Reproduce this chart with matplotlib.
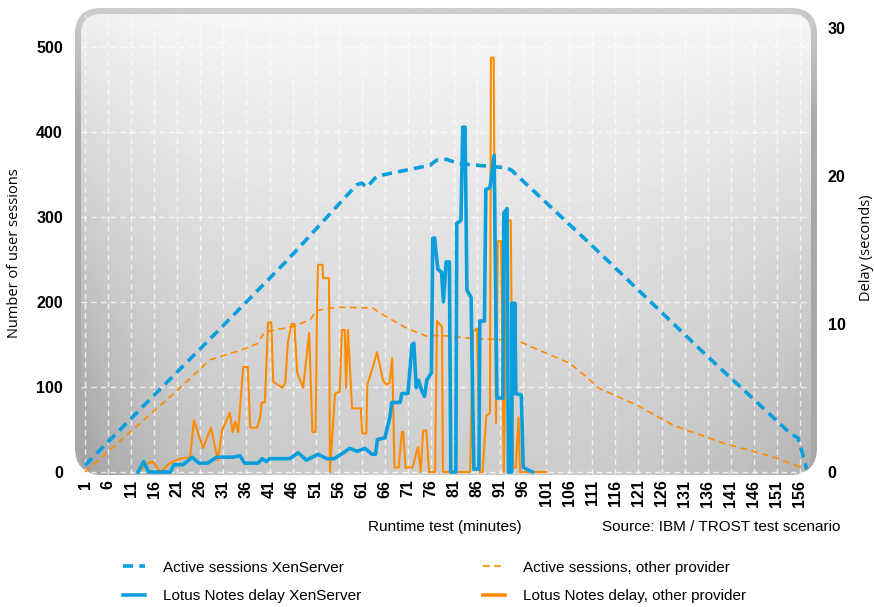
import numpy as np
import matplotlib.pyplot as plt
from matplotlib.patches import FancyBboxPatch
from matplotlib.lines import Line2D

# ---- data ----
x_ticks = list(range(1, 157, 5))
y_ticks_left = [0, 100, 200, 300, 400, 500]
y_ticks_right = [0, 10, 20, 30]

# active sessions XenServer (left axis)
sess_xen_m = [1, 15, 30, 45, 59.9, 61, 62.1, 63.9, 65, 75.8, 77.2, 79.4, 81.9, 92.4, 93.5,
              111.2, 135, 153.8, 155.6, 157.5]
sess_xen_v = [8, 85, 167, 250, 338, 340, 335, 346, 349, 361, 367, 368, 363, 358, 355,
              265, 141, 46, 40, 3]

# active sessions other provider (left axis)
sess_oth_m = [1, 21, 28.1, 34.6, 38.3, 40, 46, 49.8, 51.2, 55.6, 63.4, 65, 70.8, 75, 78, 85,
              94.6, 99.6, 106.1, 109.7, 112.3, 121.3, 128.5, 139.4, 150, 157.5]
sess_oth_v = [0, 96, 132, 143, 151, 165, 171, 179, 190, 194, 193, 187, 169, 160, 161, 157,
              155, 143, 128, 112, 99, 77, 55, 34, 18, 3]

# Lotus Notes delay XenServer (right axis, seconds)
delay_xen_m = [12.5, 13.7, 14.8, 19.5, 20.3, 22.3, 24.2, 25.7, 27.6, 29.5, 33.0, 34.6, 35.6,
               38.5, 39.4, 40.3, 41.0, 45.4, 47.2, 49.0, 51.5, 53.4, 55.0, 57.0, 58.4, 60.0,
               61.7, 63.2, 64.0, 64.4, 66.0, 67.1, 67.5, 69.3, 69.7, 71.0, 71.9, 72.3, 72.8,
               73.3, 74.0, 74.6, 75.1, 76.1, 76.4, 76.8, 77.5, 78.3, 78.7, 79.3, 80.0, 80.3,
               81.4, 81.6, 82.5, 82.9, 83.4, 83.8, 84.7, 85.3, 86.4, 86.6, 87.6, 87.9, 88.8,
               89.7, 90.3, 91.6, 91.8, 92.5, 92.8, 93.5, 93.6, 93.8, 93.9, 94.1, 94.2, 94.4,
               95.6, 96.0, 98.0]
delay_xen_s = [0, 0.7, 0, 0, 0.5, 0.5, 1.0, 0.6, 0.6, 1.0, 1.0, 1.1, 0.6,
               0.6, 0.9, 0.7, 0.9, 0.9, 1.3, 0.8, 1.2, 0.9, 0.9, 1.3, 1.6, 1.4,
               1.6, 1.2, 1.2, 2.2, 2.3, 3.7, 4.7, 4.7, 5.3, 5.3, 8.6, 8.7, 5.7,
               6.2, 5.5, 5.1, 6.2, 6.7, 15.8, 15.8, 13.7, 13.5, 11.5, 14.2, 14.2, 0,
               0, 16.8, 17.0, 23.3, 23.3, 12.3, 11.8, 0.2, 0.2, 10.2, 10.2, 19.1, 19.2,
               21.4, 5.0, 5.0, 17.5, 17.8, 0, 0, 11.4, 5.3, 11.4, 5.3, 11.4, 5.3,
               5.2, 0.3, 0]

# Lotus Notes delay other provider (right axis, seconds)
delay_oth_m = [12.5, 14.7, 15.8, 17.3, 19.4, 21.6, 23.8, 24.6, 26.6, 28.3, 29.8, 30.7, 32.4,
               33.0, 33.6, 34.2, 35.3, 36.3, 36.8, 38.3, 39.0, 39.3, 40.0, 40.7, 41.4, 41.8,
               43.7, 44.4, 45.0, 45.8, 46.4, 47.0, 48.3, 49.6, 50.3, 51.0, 51.3, 51.5, 52.5,
               52.6, 53.9, 54.1, 55.2, 56.2, 56.7, 57.3, 57.6, 58.0, 58.9, 60.8, 61.1, 62.0,
               62.2, 63.5, 64.3, 65.6, 66.3, 67.0, 67.6, 68.1, 69.0, 69.7, 70.0, 70.5, 72.0,
               73.2, 73.8, 74.3, 75.0, 75.6, 76.9, 77.3, 78.4, 78.6, 84.5, 85.1, 86.0, 86.6,
               87.2, 88.0, 88.8, 89.0, 89.6, 90.1, 90.5, 91.2, 91.8, 92.6, 93.3, 93.8, 94.4,
               95.0, 95.3, 101.0]
delay_oth_s = [0, 0.6, 0.7, 0, 0.6, 0.9, 1.0, 3.5, 1.6, 3.0, 0.8, 2.8, 4.0,
               2.7, 3.4, 2.7, 7.1, 7.1, 3.0, 3.0, 3.7, 4.7, 4.7, 10.1, 10.1, 6.1,
               5.7, 6.0, 8.8, 10.0, 10.0, 6.7, 5.7, 9.4, 2.7, 2.7, 11.1, 14.0, 14.0,
               13.1, 13.1, 0, 5.3, 5.4, 9.6, 9.6, 5.7, 9.6, 4.3, 4.3, 2.6, 2.6,
               5.9, 7.2, 8.1, 6.2, 5.9, 6.0, 7.7, 0.3, 0.3, 2.7, 2.7, 0.3, 0.3,
               1.7, 0, 2.8, 2.8, 0, 0, 10.2, 9.8, 0, 0, 9.5, 9.7, 0,
               0, 3.8, 4.0, 28.0, 28.0, 3.3, 15.6, 15.6, 0, 17.0, 17.0, 0.3, 0.3,
               3.7, 0, 0]

labels = ['Active sessions XenServer', 'Lotus Notes delay XenServer',
          'Active sessions, other provider', 'Lotus Notes delay, other provider']

blue = '#0a9fdc'
orange = '#ff8c00'
body = ['Liberation Sans', 'DejaVu Sans']

W, H = 874, 607
fig = plt.figure(figsize=(W / 100, H / 100), dpi=100)


def fx(px):
    return px / W


def fy(py):
    return 1 - py / H


# ---- rounded gradient background ----
bg = fig.add_axes([0, 0, 1, 1])
bg.set_xlim(0, W)
bg.set_ylim(H, 0)
bg.axis('off')

yy, xx = np.mgrid[0:H, 0:W].astype(float)
outer = FancyBboxPatch((75, 8), 742, 466, boxstyle='round,pad=0,rounding_size=26',
                       fc='none', ec='none')
bg.add_patch(outer)
frame = 0.80 - 0.14 * np.clip((yy - 8) / 120, 0, 1)
im1 = bg.imshow(frame, cmap='gray', vmin=0, vmax=1, extent=(0, W, H, 0), aspect='auto')
im1.set_clip_path(outer)

inner = FancyBboxPatch((81, 14), 730, 461, boxstyle='round,pad=0,rounding_size=20',
                       fc='none', ec='none')
bg.add_patch(inner)
t = np.clip((yy - 14) / 460, 0, 1)
shade = 0.965 - 0.15 * t
shade -= 0.16 * t * np.exp(-(xx - 81) / 110)
shade -= 0.12 * t * np.exp(-(811 - xx) / 130)
shade -= 0.03 * np.exp(-(xx - 81) / 60)
im2 = bg.imshow(shade, cmap='gray', vmin=0, vmax=1, extent=(0, W, H, 0), aspect='auto')
im2.set_clip_path(inner)

# ---- main axes ----
ax = fig.add_axes([fx(81), fy(474), (811 - 81) / W, (474 - 14) / H])
ax.set_facecolor('none')
ax.set_xlim(0.13, 158.4)
ax.set_ylim(-2.35, 539)
for s in ax.spines.values():
    s.set_visible(False)

ax.set_xticks(x_ticks)
ax.set_xticklabels([str(v) for v in x_ticks], rotation=90, fontweight='bold',
                   fontsize=11.5, family='Liberation Sans')
ax.set_yticks(y_ticks_left)
ax.set_yticklabels([str(v) for v in y_ticks_left], fontweight='bold',
                   fontsize=11.5, family='Liberation Sans')
ax.tick_params(axis='x', length=0, pad=4)
ax.tick_params(axis='y', length=0, pad=13)
ax.grid(True, color='white', linestyle=(0, (4, 3)), linewidth=1.0, alpha=0.75)

ax.plot(sess_oth_m, sess_oth_v, color=orange, lw=1.2, ls=(0, (4, 2.7)))
ax.plot(sess_xen_m, sess_xen_v, color=blue, lw=2.6, ls=(0, (2.8, 1.7)))

ax2 = ax.twinx()
ax2.set_ylim(-0.135, 30.95)
for s in ax2.spines.values():
    s.set_visible(False)
ax2.set_yticks(y_ticks_right)
ax2.set_yticklabels([str(v) for v in y_ticks_right], fontweight='bold',
                    fontsize=11.5, family='Liberation Sans')
ax2.tick_params(axis='y', length=0, pad=12)
ax2.plot(delay_oth_m, delay_oth_s, color=orange, lw=1.5)
ax2.plot(delay_xen_m, delay_xen_s, color=blue, lw=2.6)

# ---- axis titles ----
fig.text(fx(15), fy(253), 'Number of user sessions', rotation=90, ha='center', va='center',
         family=['Open Sans', 'DejaVu Sans'], fontsize=10.5)
fig.text(fx(866), fy(248), 'Delay (seconds)', rotation=90, ha='center', va='center',
         family=['Open Sans', 'DejaVu Sans'], fontsize=10.5)
fig.text(fx(368), fy(527), 'Runtime test (minutes)', ha='left', va='center',
         family=body, fontsize=11)
fig.text(fx(840), fy(527), 'Source: IBM / TROST test scenario', ha='right', va='center',
         family=body, fontsize=11)

# ---- legend ----
h_sx = Line2D([], [], color=blue, lw=2.6, ls=(0, (2.8, 1.7)))
h_dx = Line2D([], [], color=blue, lw=2.6)
h_so = Line2D([], [], color=orange, lw=1.2, ls=(0, (4, 2.7)))
h_do = Line2D([], [], color=orange, lw=2.6)
leg_font = {'family': body, 'size': 11}
fig.legend([h_sx, h_dx], labels[:2], loc='center left', bbox_to_anchor=(fx(123), fy(582)),
           frameon=False, handlelength=1.45, handletextpad=1.2, labelspacing=0.95,
           borderpad=0, borderaxespad=0, prop=leg_font)
fig.legend([h_so, h_do], labels[2:], loc='center left', bbox_to_anchor=(fx(483), fy(582)),
           frameon=False, handlelength=1.45, handletextpad=1.2, labelspacing=0.95,
           borderpad=0, borderaxespad=0, prop=leg_font)

fig.savefig('out.png', dpi=100)
